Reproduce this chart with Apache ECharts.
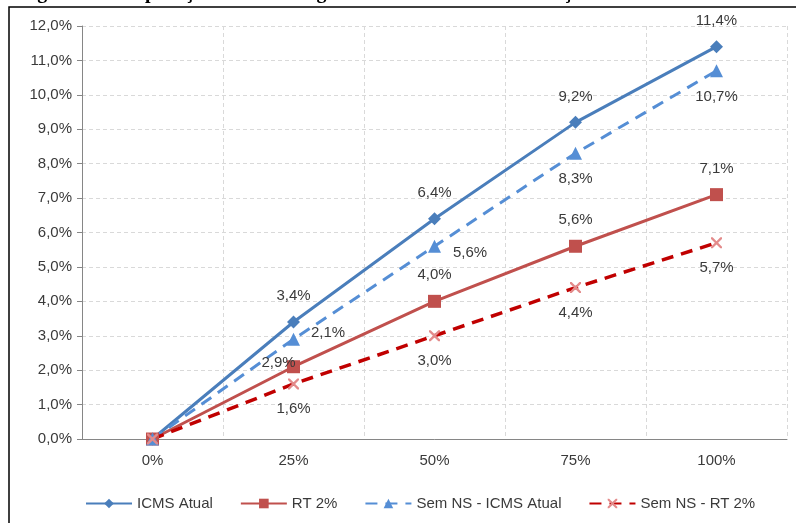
<!DOCTYPE html>
<html>
<head>
<meta charset="utf-8">
<script src="https://cdn.jsdelivr.net/npm/echarts@6/dist/echarts.min.js"></script>
<style>
  html, body { margin: 0; padding: 0; background: #fff; }
  #chart { width: 796px; height: 523px; }
</style>
</head>
<body>
<div id="chart"></div>
<script>
// dados
var categorias = ['0%', '25%', '50%', '75%', '100%'];
var icmsAtual = [0, 3.4, 6.4, 9.2, 11.4];
var rt2 = [0, 2.1, 4.0, 5.6, 7.1];
var semNsIcms = [0, 2.9, 5.6, 8.3, 10.7];
var semNsRt2 = [0, 1.6, 3.0, 4.4, 5.7];
var nomes = ['ICMS Atual', 'RT 2%', 'Sem NS - ICMS Atual', 'Sem NS - RT 2%'];

var fmt = function (v) {
  return v.toFixed(1).replace('.', ',') + '%';
};
var lblFmt = function (p) {
  return p.value === 0 ? '' : fmt(p.value);
};

// rotulos com posicao especial (como no Excel)
function pontos(arr, especiais) {
  var res = [];
  for (var i = 0; i < arr.length; i++) {
    if (especiais && especiais[i]) {
      res.push({ value: arr[i], label: especiais[i] });
    } else {
      res.push(arr[i]);
    }
  }
  return res;
}

var xMarker = 'path://M0,0L1.5,0L5,3.5L8.5,0L10,0L10,1.5L6.5,5L10,8.5L10,10L8.5,10L5,6.5L1.5,10L0,10L0,8.5L3.5,5L0,1.5Z';

var chartDom = document.getElementById('chart');
var myChart = echarts.init(chartDom);
var txt = '#3A3A3A';
var fs = 15;

var option = {
  animation: false,
  textStyle: { fontFamily: 'Liberation Sans', fontSize: fs, color: txt },
  graphic: [
    {
      type: 'text',
      left: 'center',
      top: -17,
      style: {
        text: 'Figura 5: Comparação de custos logísticos com e sem neutralização do ICMS nos estados',
        font: 'bold 20px "Liberation Serif"',
        fill: '#000'
      }
    },
    {
      type: 'rect',
      shape: { x: 9, y: 7, width: 900, height: 600 },
      style: { fill: 'none', stroke: '#000', lineWidth: 1.5 }
    }
  ],
  grid: { left: 82, right: 9, top: 26, bottom: 84 },
  legend: {
    top: 491,
    left: 80,
    itemWidth: 46,
    itemHeight: 12,
    itemGap: 27,
    textStyle: { fontSize: fs, color: txt },
    data: nomes
  },
  xAxis: {
    type: 'category',
    data: categorias,
    boundaryGap: true,
    axisLine: { lineStyle: { color: '#868686' } },
    axisTick: { length: 5, lineStyle: { color: '#868686' } },
    axisLabel: { color: txt, fontSize: fs, margin: 14 },
    splitLine: { show: true, lineStyle: { color: '#D9D9D9', type: [4, 3] } }
  },
  yAxis: {
    type: 'value',
    min: 0,
    max: 12,
    interval: 1,
    axisLine: { show: true, lineStyle: { color: '#868686' } },
    axisTick: { show: true, length: 5, lineStyle: { color: '#868686' } },
    axisLabel: { color: txt, fontSize: fs, margin: 10, formatter: fmt },
    splitLine: { lineStyle: { color: '#D9D9D9', type: [4, 3] } }
  },
  series: [
    {
      name: nomes[0],
      type: 'line',
      data: icmsAtual,
      symbol: 'diamond',
      symbolSize: 13,
      itemStyle: { color: '#4A7EBB' },
      lineStyle: { width: 3, color: '#4A7EBB' },
      label: { show: true, position: 'top', distance: 12, color: txt, fontSize: fs, formatter: lblFmt }
    },
    {
      name: nomes[1],
      type: 'line',
      data: pontos(rt2, { 1: { position: 'right', distance: 5, offset: [6, -34] } }),
      symbol: 'rect',
      symbolSize: 13,
      itemStyle: { color: '#C0504D' },
      lineStyle: { width: 3, color: '#C0504D' },
      label: { show: true, position: 'top', distance: 12, color: txt, fontSize: fs, formatter: lblFmt }
    },
    {
      name: nomes[2],
      type: 'line',
      data: pontos(semNsIcms, {
        1: { position: 'bottom', distance: 12, offset: [-15, -2] },
        2: { position: 'right', distance: 12, offset: [0, 7] }
      }),
      symbol: 'triangle',
      symbolSize: 13,
      itemStyle: { color: '#558ED5' },
      lineStyle: { width: 3, color: '#558ED5', type: [12, 8] },
      label: { show: true, position: 'bottom', distance: 12, color: txt, fontSize: fs, formatter: lblFmt }
    },
    {
      name: nomes[3],
      type: 'line',
      data: semNsRt2,
      symbol: xMarker,
      symbolSize: 11,
      itemStyle: { color: '#E38B8B' },
      lineStyle: { width: 3.5, color: '#C00000', type: [12, 8] },
      label: { show: true, position: 'bottom', distance: 12, color: txt, fontSize: fs, formatter: lblFmt }
    }
  ]
};

option && myChart.setOption(option);
</script>
</body>
</html>
